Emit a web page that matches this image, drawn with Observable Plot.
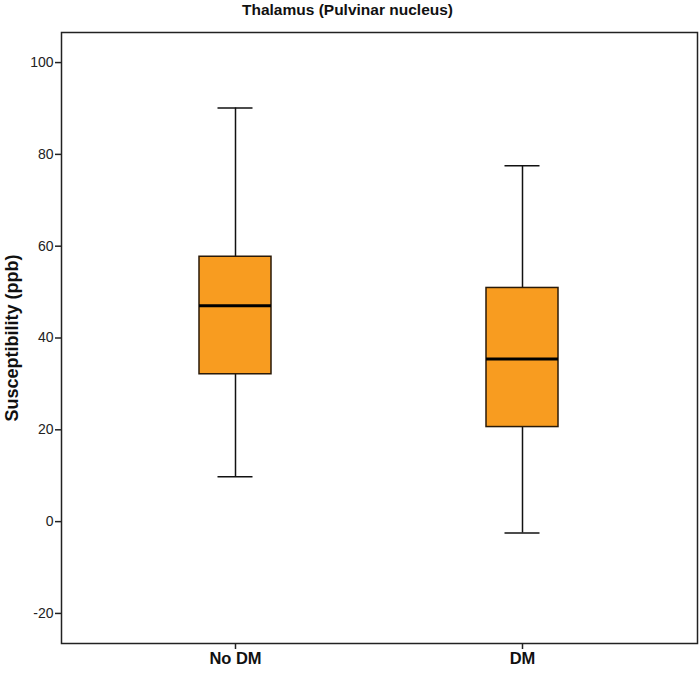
<!DOCTYPE html>
<html>
<head>
<meta charset="utf-8">
<script src="https://cdn.jsdelivr.net/npm/d3@7"></script>
<script src="https://cdn.jsdelivr.net/npm/@observablehq/plot@0.6"></script>
<style>
  html, body { margin: 0; padding: 0; background: #fff; }
  #chart svg { display: block; }
</style>
</head>
<body>
<div id="chart"></div>
<script>
const groups = ["No DM", "DM"];
const whiskerLow = [9.8, -2.5];
const q1 = [32.1, 20.6];
const median = [47.0, 35.4];
const q3 = [57.7, 50.9];
const whiskerHigh = [90.1, 77.5];
const yTicks = [-20, 0, 20, 40, 60, 80, 100];
const title = "Thalamus (Pulvinar nucleus)";
const yLabel = "Susceptibility (ppb)";

const rows = groups.map((g, i) => ({
  group: g, lo: whiskerLow[i], q1: q1[i], med: median[i], q3: q3[i], hi: whiskerHigh[i]
}));

const chart = Plot.plot({
  width: 700,
  height: 673,
  marginLeft: 61,
  marginRight: 3,
  marginTop: 32,
  marginBottom: 30,
  style: { fontFamily: "'Liberation Sans', Arial, sans-serif", background: "#fff" },
  x: { type: "band", domain: groups, paddingInner: 0.749, paddingOuter: 0.482, label: null },
  y: { domain: [-26.55, 106.55], label: null },
  marks: [
    Plot.ruleX(rows, { x: "group", y1: "lo", y2: "hi", stroke: "#111", strokeWidth: 1.5 }),
    Plot.tickY(rows, { x: "group", y: "lo", stroke: "#111", strokeWidth: 1.5, insetLeft: 18.5, insetRight: 18.5 }),
    Plot.tickY(rows, { x: "group", y: "hi", stroke: "#111", strokeWidth: 1.5, insetLeft: 18.5, insetRight: 18.5 }),
    Plot.barY(rows, { x: "group", y1: "q1", y2: "q3", fill: "#F89C20", stroke: "#2a1a08", strokeWidth: 1.5 }),
    Plot.tickY(rows, { x: "group", y: "med", stroke: "#000", strokeWidth: 3 }),
    Plot.frame({ stroke: "#222", strokeWidth: 1.5 }),
    Plot.axisY(yTicks, { tickSize: 6, tickPadding: 2, fontSize: 14, fill: "#222", stroke: "#222", strokeWidth: 1.5, label: null, tickFormat: d => String(d) }),
    Plot.axisX({ tickSize: 6, tickPadding: 3, fontSize: 16.5, fontWeight: "bold", fill: "#111", stroke: "#222", strokeWidth: 1.5, label: null }),
    Plot.text([yLabel], { frameAnchor: "left", textAnchor: "middle", dx: -49, rotate: -90, fontSize: 18, fontWeight: "bold", fill: "#111", text: d => d }),
    Plot.text([title], { frameAnchor: "top", dy: -29, dx: -32, fontSize: 15.5, fontWeight: "bold", fill: "#111", text: d => d })
  ]
});
document.getElementById("chart").appendChild(chart);
</script>
</body>
</html>
